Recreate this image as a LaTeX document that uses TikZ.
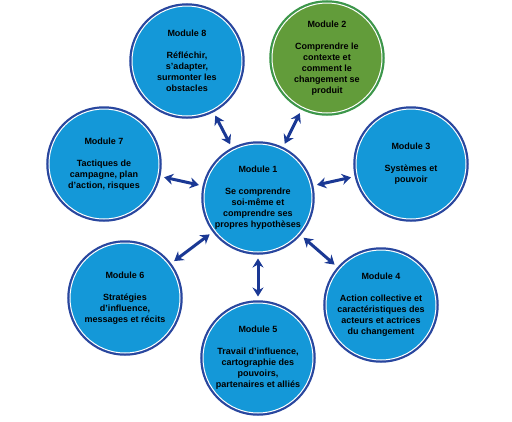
\documentclass[tikz,border=0pt]{standalone}
\usepackage{fontspec}
\setmainfont{Liberation Sans}
\usepackage{xcolor}
\usepackage{tikz}
\usetikzlibrary{arrows.meta}
\definecolor{modblue}{RGB}{20,152,216}
\definecolor{ringblue}{RGB}{40,70,158}
\definecolor{modgreen}{RGB}{98,156,58}
\definecolor{ringgreen}{RGB}{60,150,74}
\definecolor{arrblue}{RGB}{26,56,148}

\begin{document}
\begin{tikzpicture}[x=1pt, y=-1pt,
	mod/.style={circle, minimum size=110pt, inner sep=0pt, align=center, fill=modblue, draw=white, line width=1pt, preaction={draw=#1, line width=5.5pt}, font=\bfseries\fontsize{9}{11}\selectfont},
	mod/.default=ringblue,
	arr/.style={{Stealth[length=9pt,width=11pt,inset=3pt]}-{Stealth[length=9pt,width=11pt,inset=3pt]}, line width=3pt, draw=arrblue, shorten >=6pt, shorten <=6pt}]
	\useasboundingbox (0,0) rectangle (512,421);
	\node[mod, minimum size=108pt] (m1) at (258,198) {Module 1\\[11pt]Se comprendre\\soi-même et\\comprendre ses\\propres hypothèses};
	\node[mod=ringgreen, fill=modgreen] (m2) at (327,58) {Module 2\\[11pt]Comprendre le\\contexte et\\comment le\\changement se\\produit};
	\node[mod] (m3) at (411,164) {Module 3\\[11pt]Systèmes et\\pouvoir};
	\node[mod] (m4) at (381,305) {Module 4\\[11pt]Action collective et\\caractéristiques des\\acteurs et actrices\\du changement};
	\node[mod] (m5) at (258,358) {Module 5\\[11pt]Travail d'influence,\\cartographie des\\pouvoirs,\\partenaires et alliés};
	\node[mod] (m6) at (125,298) {Module 6\\[11pt]Stratégies\\d'influence,\\messages et récits};
	\node[mod] (m7) at (104,164) {Module 7\\[11pt]Tactiques de\\campagne, plan\\d'action, risques};
	\node[mod] (m8) at (187,61) {Module 8\\[11pt]Réfléchir,\\s'adapter,\\surmonter les\\obstacles};
	\foreach \m in {m2,m3,m4,m5,m6,m7,m8}
		\draw[arr] (m1) -- (\m);
\end{tikzpicture}
\end{document}
